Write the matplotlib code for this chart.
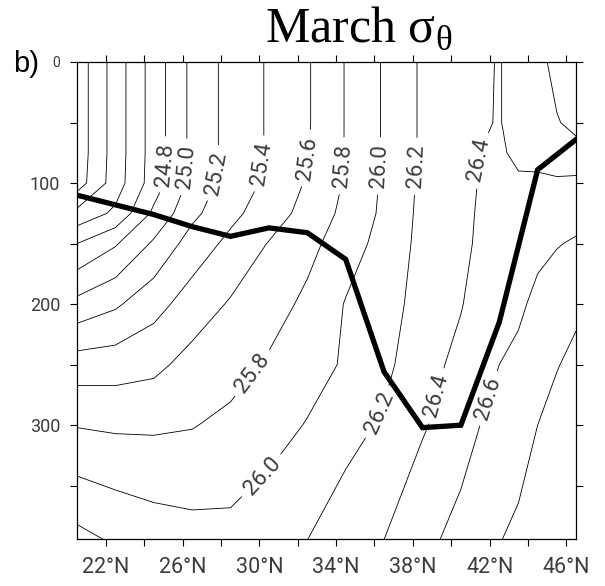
import numpy as np
import matplotlib
matplotlib.use("Agg")
import matplotlib.pyplot as plt

plt.rcParams['mathtext.fontset'] = 'custom'
plt.rcParams['mathtext.rm'] = 'Liberation Serif'

# grid of the section (latitude, depth in m)
lats = [20.5, 22.5, 24.5, 26.5, 28.5, 30.5, 32.5, 34.5, 36.5, 38.5,
        40.5, 41.5, 42.5, 43.5, 44.5, 45.5, 46.5]
depths = [0, 50, 75, 100, 125, 150, 200, 250, 300, 400]

# sigma-theta profiles, one list per latitude
sig_20 = [23.88, 23.88, 23.88, 23.90, 24.26, 24.60, 25.06, 25.50, 25.79, 26.29]
sig_22 = [24.29, 24.29, 24.29, 24.30, 24.44, 24.78, 25.17, 25.51, 25.77, 26.20]
sig_24 = [24.69, 24.69, 24.69, 24.70, 24.84, 25.03, 25.33, 25.55, 25.77, 26.13]
sig_26 = [25.05, 25.05, 25.05, 25.06, 25.15, 25.29, 25.49, 25.67, 25.79, 26.09]
sig_28 = [25.27, 25.27, 25.27, 25.29, 25.35, 25.45, 25.62, 25.72, 25.85, 26.07]
sig_30 = [25.42, 25.42, 25.42, 25.44, 25.50, 25.61, 25.70, 25.83, 25.93, 26.12]
sig_32 = [25.58, 25.58, 25.59, 25.62, 25.67, 25.73, 25.85, 25.93, 26.01, 26.21]
sig_34 = [25.81, 25.81, 25.81, 25.82, 25.85, 25.92, 26.01, 26.02, 26.12, 26.34]
sig_36 = [26.02, 26.02, 26.02, 26.03, 26.04, 26.06, 26.10, 26.15, 26.23, 26.41]
sig_38 = [26.23, 26.23, 26.23, 26.24, 26.25, 26.26, 26.29, 26.33, 26.38, 26.55]
sig_40 = [26.32, 26.32, 26.33, 26.34, 26.35, 26.37, 26.39, 26.45, 26.51, 26.68]
sig_41 = [26.37, 26.38, 26.40, 26.41, 26.42, 26.42, 26.47, 26.53, 26.60, 26.74]
sig_42 = [26.41, 26.41, 26.42, 26.44, 26.46, 26.48, 26.53, 26.60, 26.67, 26.80]
sig_43 = [26.33, 26.33, 26.37, 26.42, 26.46, 26.50, 26.57, 26.64, 26.71, 26.85]
sig_44 = [26.25, 26.27, 26.33, 26.44, 26.50, 26.56, 26.64, 26.72, 26.80, 26.92]
sig_45 = [26.15, 26.21, 26.29, 26.43, 26.52, 26.59, 26.70, 26.79, 26.87, 26.96]
sig_46 = [26.08, 26.16, 26.25, 26.45, 26.54, 26.62, 26.76, 26.85, 26.90, 26.98]

# mixed layer depth (thick line)
mld_lat = [20.5, 22.5, 24.5, 26.5, 28.5, 30.5, 32.5, 34.5, 36.5, 38.5,
           40.5, 42.5, 44.5, 46.5]
mld = [110, 118, 126, 136, 144, 137, 141, 163, 256, 302, 300, 215, 89, 64]

levels = np.round(np.arange(24.0, 26.81, 0.2), 1)

# where the contour labels sit (lat, depth)
label_pos = [(25.05, 85), (26.1, 87), (27.6, 92), (30.05, 84), (32.65, 80),
             (34.5, 86), (36.3, 86), (38.0, 86), (41.5, 81),
             (29.9, 260), (30.2, 343), (36.3, 290), (39.5, 277), (42.16, 279)]

sigma = np.array([sig_20, sig_22, sig_24, sig_26, sig_28, sig_30, sig_32,
                  sig_34, sig_36, sig_38, sig_40, sig_41, sig_42, sig_43,
                  sig_44, sig_45, sig_46]).T

txt_col = '#3c3c3c'

fig = plt.figure(figsize=(6.05, 5.86), dpi=100)
ax = fig.add_axes([0.1273, 0.0802, 0.8248, 0.814])

X, Y = np.meshgrid(lats, depths)
cs = ax.contour(X, Y, sigma, levels=levels, colors='black', linewidths=0.6)
ax.plot(mld_lat, mld, color='black', lw=3.8, solid_joinstyle='miter', zorder=4)

ax.set_xlim(20.5, 46.5)
ax.set_ylim(394, 0)

xt = np.arange(22, 47, 2)
ax.set_xticks(xt)
ax.set_xticklabels([f'{v}°N' if (v - 22) % 4 == 0 else '' for v in xt],
                   family='Roboto', fontsize=15.5, color=txt_col)
yt = np.arange(0, 351, 50)
ax.set_yticks(yt)
ax.set_yticklabels([str(v) if v % 100 == 0 else '' for v in yt],
                   family='Roboto', fontsize=13, color=txt_col)
ax.get_yticklabels()[0].set_fontsize(10)
ax.tick_params(direction='out', top=True, right=True, length=5, width=0.8)
ax.tick_params(axis='x', pad=8)
ax.tick_params(axis='y', pad=7)
for s in ax.spines.values():
    s.set_linewidth(0.9)

lbl = cs.clabel(levels=levels, manual=label_pos, fmt='%.1f', fontsize=16,
                inline=True, inline_spacing=4, colors=txt_col)
for t in lbl:
    t.set_family('Roboto')

fig.text(359 / 605, 1 - 42 / 586, 'March $\\mathrm{σ}_{\\mathrm{θ}}$', ha='center',
         va='baseline', family='Liberation Serif', fontsize=36)
fig.text(0.021, 1 - 72 / 586, 'b)', ha='left', va='baseline',
         family='Liberation Sans', fontsize=21)

fig.savefig('out.png', dpi=100)
